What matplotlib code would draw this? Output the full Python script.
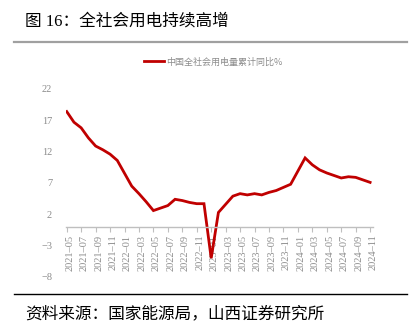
import numpy as np
import pandas as pd
import matplotlib
matplotlib.use("Agg")
import matplotlib.pyplot as plt
from matplotlib.lines import Line2D
from matplotlib.transforms import ScaledTranslation

plt.rcParams['font.family'] = ['Liberation Serif', 'Noto Sans CJK SC', 'DejaVu Sans']

# 全社会用电量累计同比（%），1月无单独数据
months = [p.strftime('%Y-%m') for p in pd.period_range('2021-05', '2024-11', freq='M')]
yoy = [18.4, 16.7, 15.8, 14.2, 12.9, 12.3, 11.6, 10.6,
       None, 6.5, 5.3, 4.0, 2.6, 3.0, 3.4, 4.4, 4.2, 3.9, 3.7, 3.7,
       -5.0, 2.3, 3.6, 4.9, 5.3, 5.1, 5.3, 5.1, 5.5, 5.8, 6.3, 6.8,
       None, 11.0, 9.9, 9.1, 8.6, 8.2, 7.8, 8.0, 7.9, 7.5, 7.1]
yticks = [-8, -3, 2, 7, 12, 17, 22]

series_name = '中国全社会用电量累计同比%'
title = '图 16：全社会用电持续高增'
source = '资料来源：国家能源局，山西证券研究所'

red = '#C00000'
grey = '#8C8C8C'

W, H = 413, 336
fig = plt.figure(figsize=(W / 100, H / 100), dpi=100)
ax = fig.add_axes([66 / W, 1 - 277 / H, 307 / W, 188 / H])

idx = np.arange(len(months))
vals = np.array([np.nan if v is None else v for v in yoy])
ok = ~np.isnan(vals)
line, = ax.plot(idx[ok], vals[ok], color=red, lw=2.0, label=series_name,
                solid_joinstyle='miter')

ax.set_xlim(-0.1, len(months) - 0.6)
ax.set_ylim(-8, 22)
ax.set_yticks(yticks)

for s in ['top', 'right', 'left']:
    ax.spines[s].set_visible(False)
ax.spines['bottom'].set_position(('data', 0))
ax.spines['bottom'].set_color('#BFBFBF')
ax.spines['bottom'].set_linewidth(1.0)

ax.set_xticks(idx[::2])
ax.set_xticklabels([m.replace('-', '–') for m in months[::2]],
                   rotation=90, fontsize=7.5, color=grey)
ax.tick_params(axis='x', length=3.5, width=0.8, color='#BFBFBF', pad=2)
ax.tick_params(axis='y', length=0, labelsize=7.5, labelcolor=grey, pad=10)
shift = ScaledTranslation(3 / 100, 0, fig.dpi_scale_trans)
for lab in ax.get_xticklabels():
    lab.set_transform(lab.get_transform() + shift)

# 图例
fig.legend(handles=[Line2D([], [], color=red, lw=2.0)], labels=[series_name],
           loc='center', bbox_to_anchor=(213 / W, 1 - 62 / H), frameon=False,
           fontsize=6.5, labelcolor=grey, handlelength=2.2, handletextpad=0.2,
           prop={'family': ['Noto Sans CJK SC'], 'size': 6.5})

# 标题、分隔线与来源
fig.text(25 / W, 1 - 22 / H, title, fontsize=12, va='center', ha='left',
         color='black')
fig.add_artist(Line2D([14 / W, 407 / W], [1 - 42 / H] * 2, color='#A0A0A0',
                      lw=1.6, transform=fig.transFigure))
fig.add_artist(Line2D([14 / W, 407 / W], [1 - 294 / H] * 2, color='black',
                      lw=1.0, transform=fig.transFigure))
fig.text(25 / W, 1 - 314 / H, source, fontsize=12, va='center', ha='left',
         family=['Noto Sans CJK SC'], color='black')

fig.savefig('out.png', dpi=100)
